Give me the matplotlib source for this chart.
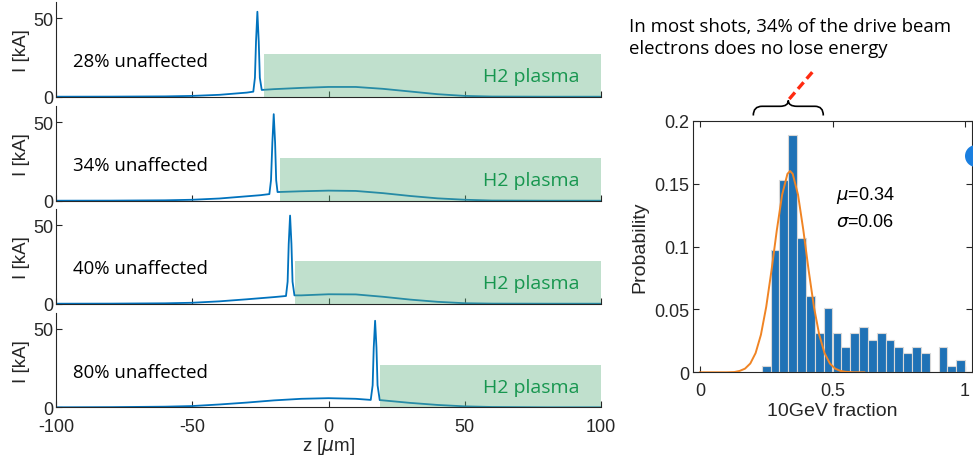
import matplotlib
matplotlib.use("Agg")
import matplotlib.pyplot as plt
from matplotlib.patches import Rectangle, PathPatch, Ellipse
from matplotlib.path import Path
from matplotlib.lines import Line2D

plt.rcParams["axes.unicode_minus"] = False

# ---------------- data ----------------
labels_unaffected = ["28% unaffected", "34% unaffected", "40% unaffected", "80% unaffected"]

p1_z = [-100, -80, -60, -50, -40, -30, -27.6, -27.0, -26.6, -26.1, -25.6, -25.2, -24.5, -20, -10, 0, 10, 20, 30, 40, 50, 60, 80, 100]
p1_I = [0, 0.05, 0.2, 0.5, 1.2, 2.6, 3.2, 12, 35, 54, 35, 12, 4.3, 4.8, 5.6, 6.2, 6.2, 5.0, 3.3, 1.6, 0.5, 0.1, 0, 0]

p2_z = [-100, -80, -60, -50, -40, -30, -25, -21.7, -21.1, -20.6, -20.1, -19.6, -19.2, -18.7, -10, 0, 10, 20, 30, 40, 50, 60, 80, 100]
p2_I = [0, 0.05, 0.25, 0.6, 1.4, 2.8, 3.5, 4.2, 13, 37, 55, 37, 13, 5.5, 6.0, 6.4, 6.2, 4.8, 3.0, 1.5, 0.6, 0.1, 0, 0]

p3_z = [-100, -80, -60, -50, -40, -30, -20, -15.6, -15.0, -14.6, -14.1, -13.6, -13.2, -12.5, -10, 0, 10, 20, 30, 40, 50, 60, 80, 100]
p3_I = [0, 0.05, 0.25, 0.6, 1.5, 2.8, 4.2, 4.9, 14, 38, 56, 38, 14, 5.3, 5.3, 6.0, 5.9, 4.4, 2.6, 1.2, 0.3, 0.05, 0, 0]

p4_z = [-100, -80, -60, -50, -40, -30, -20, -10, 0, 10, 15.5, 16.2, 16.6, 17.1, 17.6, 18.0, 18.8, 25, 30, 40, 50, 60, 80, 100]
p4_I = [0, 0.1, 0.4, 0.8, 1.8, 3.0, 4.4, 5.4, 5.8, 5.4, 4.7, 14, 38, 55, 38, 14, 4.6, 3.6, 2.8, 1.5, 0.6, 0.2, 0, 0]

plasma_start = [-23.5, -17.8, -12.2, 19.0]
plasma_height = [27, 27, 27, 27]

hist_centers = [0.25, 0.2833, 0.3167, 0.35, 0.3833, 0.4167, 0.45, 0.4833, 0.5167, 0.55, 0.5833,
                0.6167, 0.65, 0.6833, 0.7167, 0.75, 0.7833, 0.8167, 0.85, 0.8833, 0.9167, 0.95, 0.9833]
hist_prob = [0.005, 0.097, 0.153, 0.189, 0.107, 0.061, 0.031, 0.051, 0.031, 0.020, 0.031,
             0.036, 0.026, 0.031, 0.026, 0.020, 0.015, 0.020, 0.015, 0.0, 0.020, 0.005, 0.010]
bin_width = 1 / 30

fit_x = [0.0, 0.10, 0.13, 0.15, 0.17, 0.19, 0.21, 0.23, 0.25, 0.27, 0.29, 0.31, 0.33, 0.34,
         0.35, 0.37, 0.39, 0.41, 0.43, 0.45, 0.47, 0.49, 0.51, 0.53, 0.55, 0.58, 0.62]
fit_y = [0.0, 0.0, 0.0002, 0.0011, 0.0029, 0.0070, 0.0153, 0.0298, 0.0520, 0.0811, 0.1130, 0.1411, 0.1577, 0.160,
         0.1577, 0.1411, 0.1130, 0.0811, 0.0520, 0.0298, 0.0153, 0.0070, 0.0029, 0.0011, 0.0004, 0.0, 0.0]

# ---------------- figure ----------------
W, H = 973, 464
fig = plt.figure(figsize=(W / 100, H / 100), dpi=100)

TICKFONT = "Liberation Sans"
NOTEFONT = "Open Sans"
axis_col = "#262626"
line_col = "#0072BD"


def px_rect(x0, y_top, x1, y_bot):
    return [x0 / W, 1 - y_bot / H, (x1 - x0) / W, (y_bot - y_top) / H]


panel_bottoms = [97.7, 201.7, 304.7, 408.3]
panel_h = 94.4
curves = [(p1_z, p1_I), (p2_z, p2_I), (p3_z, p3_I), (p4_z, p4_I)]

for i, (zb, (zz, II)) in enumerate(zip(panel_bottoms, curves)):
    ax = fig.add_axes(px_rect(56, zb - panel_h, 601, zb))
    ax.set_facecolor("none")
    ax.plot(zz, II, color=line_col, lw=1.3, zorder=2)
    ax.add_patch(Rectangle((plasma_start[i], 0), 100 - plasma_start[i], plasma_height[i],
                           facecolor="#62B282", alpha=0.4, edgecolor="none", zorder=3))
    ax.text(-93.7, 22.5, labels_unaffected[i], fontsize=13.4, family=NOTEFONT,
            ha="left", va="center", color="black")
    ax.text(92, 13, "H2 plasma", fontsize=14, family=NOTEFONT,
            ha="right", va="center", color="#17964F", zorder=4)
    ax.set_xlim(-100, 100)
    ax.set_ylim(0, 60)
    ax.set_yticks([0, 50])
    ax.set_xticks([-100, -50, 0, 50, 100])
    for s in ["top", "right"]:
        ax.spines[s].set_visible(False)
    for s in ["left", "bottom"]:
        ax.spines[s].set_color(axis_col)
        ax.spines[s].set_linewidth(0.8)
    ax.tick_params(direction="in", length=4, width=0.8, colors=axis_col, labelsize=13,
                   labelcolor=axis_col, pad=2)
    ax.tick_params(axis="x", pad=8)
    for lab in ax.get_xticklabels() + ax.get_yticklabels():
        lab.set_family(TICKFONT)
    ax.set_ylabel("I [kA]", fontsize=13.5, family=TICKFONT, color=axis_col, labelpad=2)
    if i < 3:
        ax.set_xticklabels([])
    else:
        ax.set_xlabel(r"z [$\mu$m]", fontsize=13.5, family=TICKFONT, color=axis_col, labelpad=0)

# ---------------- histogram ----------------
axh = fig.add_axes(px_rect(693.3, 121.7, 971.7, 373.3))
axh.bar(hist_centers, hist_prob, width=bin_width, color="#1F72B6", edgecolor="#d8d8d8",
        linewidth=0.8, zorder=2)
axh.plot(fit_x, fit_y, color="#F08424", lw=1.4, zorder=3)
axh.set_xlim(-0.025, 1.025)
axh.set_ylim(0, 0.2)
axh.set_xticks([0, 0.5, 1])
axh.set_xticklabels(["0", "0.5", "1"])
axh.set_yticks([0, 0.05, 0.1, 0.15, 0.2])
axh.set_yticklabels(["0", "0.05", "0.1", "0.15", "0.2"])
axh.tick_params(direction="in", length=4, width=0.8, colors=axis_col, labelsize=13,
                top=True, right=True, pad=3)
axh.tick_params(axis="x", pad=7)
for lab in axh.get_xticklabels() + axh.get_yticklabels():
    lab.set_family(TICKFONT)
for s in axh.spines.values():
    s.set_color(axis_col)
    s.set_linewidth(0.8)
axh.set_xlabel("10GeV fraction", fontsize=14, family=TICKFONT, color=axis_col, labelpad=2)
axh.set_ylabel("Probability", fontsize=14, family=TICKFONT, color=axis_col, labelpad=4)
axh.text(0.515, 0.141, r"$\mu$=0.34", fontsize=13, family=TICKFONT, color="black", va="center")
axh.text(0.515, 0.120, r"$\sigma$=0.06", fontsize=13, family=TICKFONT, color="black", va="center")

# ---------------- annotations ----------------
fig.text(629 / W, 1 - 38 / H, "In most shots, 34% of the drive beam\nelectrons does no lose energy",
         fontsize=13.4, family=NOTEFONT, ha="left", va="center", linespacing=1.35, color="black")


def fp(x, y):
    return (x / W, 1 - y / H)


verts = [fp(753.3, 116.5), fp(753.3, 107.3), fp(762, 107.3),
         fp(780, 107.3), fp(788.3, 107.3), fp(788.3, 101.5),
         fp(788.3, 107.3), fp(797, 107.3),
         fp(815, 107.3), fp(823.3, 107.3), fp(823.3, 116.5)]
codes = [Path.MOVETO, Path.CURVE3, Path.CURVE3,
         Path.LINETO, Path.CURVE3, Path.CURVE3,
         Path.CURVE3, Path.CURVE3,
         Path.LINETO, Path.CURVE3, Path.CURVE3]
fig.add_artist(PathPatch(Path(verts, codes), transform=fig.transFigure, facecolor="none",
                         edgecolor="black", lw=1.2))

x0, y0 = fp(789.3, 100)
x1, y1 = fp(815, 70)
fig.add_artist(Line2D([x0, x1], [y0, y1], transform=fig.transFigure, color="#FF2A10",
                      lw=2.4, linestyle=(0, (2.6, 1.4))))

fig.add_artist(Ellipse(fp(976, 157), 22 / W, 22 / H, transform=fig.transFigure,
                       facecolor="#1A7FE0", edgecolor="none"))

fig.savefig("out.png", dpi=100)
